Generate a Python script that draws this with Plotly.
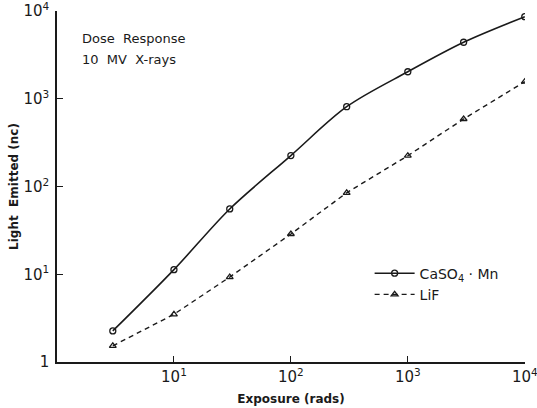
import plotly.graph_objects as go

exposure = [3, 10, 30, 100, 300, 1000, 3000, 10000]
caso4_mn = [2.26, 11.3, 55.6, 226, 814, 2040, 4420, 8650]
lif = [1.53, 3.5, 9.3, 28.8, 85, 225, 590, 1570]

x_tickvals = [10, 100, 1000, 10000]
x_ticktext = ["10<sup>1</sup>", "10<sup>2</sup>", "10<sup>3</sup>", "10<sup>4</sup>"]
y_tickvals = [1, 10, 100, 1000, 10000]
y_ticktext = ["1", "10<sup>1</sup>", "10<sup>2</sup>", "10<sup>3</sup>", "10<sup>4</sup>"]

ink = "#1a1a1a"
font_family = "DejaVu Sans, Arial, sans-serif"

fig = go.Figure()
fig.add_trace(go.Scatter(
    x=exposure, y=caso4_mn, name="CaSO<sub>4</sub> · Mn",
    mode="lines+markers", line=dict(color=ink, width=1.6, shape="spline", smoothing=0.9),
    marker=dict(symbol="circle-open", size=6, color=ink, line=dict(width=1.3)),
))
fig.add_trace(go.Scatter(
    x=exposure, y=lif, name="LiF",
    mode="lines+markers", line=dict(color=ink, width=1.4, dash="5px,4px"),
    marker=dict(symbol="triangle-up-open", size=6, color=ink, line=dict(width=1.3)),
))

fig.add_annotation(
    x=0.05, y=0.894, xref="paper", yref="paper", xanchor="left", yanchor="bottom",
    text="Dose  Response", showarrow=False, font=dict(size=13, color=ink, family=font_family),
)
fig.add_annotation(
    x=0.05, y=0.836, xref="paper", yref="paper", xanchor="left", yanchor="bottom",
    text="10  MV  X-rays", showarrow=False, font=dict(size=13, color=ink, family=font_family),
)

fig.update_layout(
    width=537, height=408,
    margin=dict(l=57, r=12, t=11, b=46),
    paper_bgcolor="white", plot_bgcolor="white",
    font=dict(family=font_family, color=ink, size=12),
    showlegend=True,
    legend=dict(x=0.668, y=0.222, xanchor="left", yanchor="middle",
                bgcolor="rgba(0,0,0,0)", font=dict(size=14), tracegroupgap=0,
                itemwidth=40),
)
fig.update_xaxes(
    type="log", range=[0, 4.002], showgrid=False, zeroline=False,
    showline=True, linecolor=ink, linewidth=1.6, automargin=False,
    ticks="inside", ticklen=6, tickwidth=1.3, tickcolor=ink,
    tickvals=x_tickvals, ticktext=x_ticktext, tickfont=dict(size=15),
    ticklabeloverflow="allow",
    title=dict(text="<b>Exposure (rads)</b>", font=dict(size=12), standoff=10),
)
fig.update_yaxes(
    type="log", range=[0, 4.002], showgrid=False, zeroline=False,
    showline=True, linecolor=ink, linewidth=1.6, automargin=False,
    ticks="inside", ticklen=6, tickwidth=1.3, tickcolor=ink,
    tickvals=y_tickvals, ticktext=y_ticktext, tickfont=dict(size=15),
    ticklabelstandoff=3,
    title=dict(text="<b>Light  Emitted (nc)</b>", font=dict(size=12), standoff=2),
)

fig.write_html("out.html")
